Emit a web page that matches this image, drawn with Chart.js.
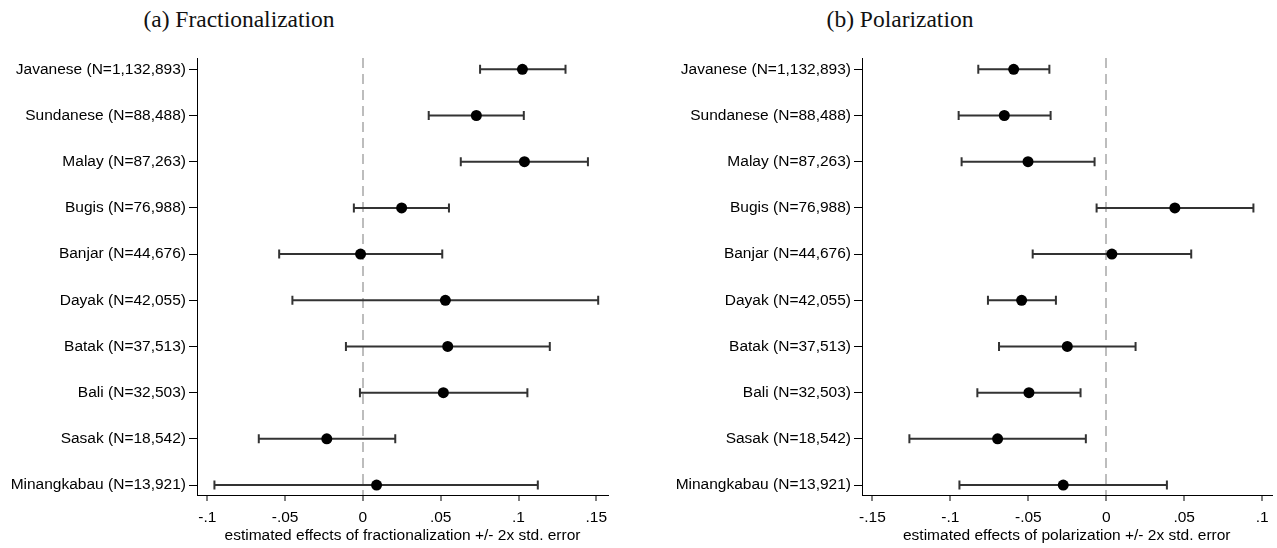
<!DOCTYPE html>
<html>
<head>
<meta charset="utf-8">
<script src="https://cdn.jsdelivr.net/npm/chart.js@4.4.1/dist/chart.umd.min.js"></script>
<style>
  body { margin: 0; background: #fff; width: 1277px; height: 548px; position: relative; overflow: hidden; }
  .panel { position: absolute; top: 0; height: 548px; }
  .title { position: absolute; top: 8px; font-family: 'Liberation Serif', serif; font-size: 23.5px; line-height: 23.5px; color: #111; transform: translateX(-50%); white-space: nowrap; }
</style>
</head>
<body>
<div class="title" style="left:239px">(a) Fractionalization</div>
<div class="title" style="left:900px">(b) Polarization</div>
<div class="panel" style="left:0;width:640px"><canvas id="fracChart"></canvas></div>
<div class="panel" style="left:640px;width:637px"><canvas id="polChart"></canvas></div>
<script>
const groups = [
  'Javanese (N=1,132,893)', 'Sundanese (N=88,488)', 'Malay (N=87,263)',
  'Bugis (N=76,988)', 'Banjar (N=44,676)', 'Dayak (N=42,055)',
  'Batak (N=37,513)', 'Bali (N=32,503)', 'Sasak (N=18,542)',
  'Minangkabau (N=13,921)'
];

// (a) fractionalization: estimate and +/- 2 s.e. bounds
const fracEst  = [0.1025, 0.0729, 0.1038, 0.0249, -0.0015, 0.0530, 0.0545, 0.0517, -0.0232, 0.0088];
const fracLow  = [0.0753, 0.0423, 0.0629, -0.0058, -0.0538, -0.0453, -0.0109, -0.0019, -0.0669, -0.0954];
const fracHigh = [0.1302, 0.1034, 0.1446, 0.0553, 0.0510, 0.1512, 0.1201, 0.1057, 0.0208, 0.1124];

// (b) polarization
const polEst  = [-0.0594, -0.0654, -0.0502, 0.0440, 0.0036, -0.0543, -0.0250, -0.0496, -0.0697, -0.0276];
const polLow  = [-0.0821, -0.0947, -0.0928, -0.0062, -0.0472, -0.0759, -0.0688, -0.0827, -0.1263, -0.0942];
const polHigh = [-0.0365, -0.0357, -0.0075, 0.0944, 0.0545, -0.0323, 0.0188, -0.0165, -0.0131, 0.0389];

const fracTicks = [-0.1, -0.05, 0, 0.05, 0.1, 0.15];
const fracTickLabels = ['-.1', '-.05', '0', '.05', '.1', '.15'];
const polTicks = [-0.15, -0.1, -0.05, 0, 0.05, 0.1];
const polTickLabels = ['-.15', '-.1', '-.05', '0', '.05', '.1'];

const labelFont = { family: "'Liberation Sans', Arial, sans-serif", size: 15.5 };

// draws the whiskers with caps under the points
const errorBars = {
  id: 'errorBars',
  beforeDatasetsDraw(chart, args, opts) {
    const { ctx, scales: { x, y } } = chart;
    ctx.save();
    ctx.strokeStyle = '#333';
    ctx.lineWidth = 2;
    opts.low.forEach((lo, i) => {
      const yp = y.getPixelForValue(i);
      const x1 = x.getPixelForValue(lo);
      const x2 = x.getPixelForValue(opts.high[i]);
      ctx.beginPath();
      ctx.moveTo(x1, yp); ctx.lineTo(x2, yp);
      ctx.moveTo(x1, yp - 4.5); ctx.lineTo(x1, yp + 4.5);
      ctx.moveTo(x2, yp - 4.5); ctx.lineTo(x2, yp + 4.5);
      ctx.stroke();
    });
    ctx.restore();
  }
};

function makeChart(id, est, low, high, ticks, tickLabels, xMin, xMax, yWidth, rightPad, axisTitle) {
  const ctx = document.getElementById(id).getContext('2d');
  return new Chart(ctx, {
    type: 'scatter',
    data: {
      datasets: [{
        data: est.map((v, i) => ({ x: v, y: i })),
        backgroundColor: '#000',
        borderColor: '#000',
        pointRadius: 5.5,
        pointBorderWidth: 0,
      }],
    },
    plugins: [errorBars],
    options: {
      responsive: true,
      maintainAspectRatio: false,
      animation: false,
      layout: { padding: { top: 58, right: rightPad, left: 0, bottom: 0 } },
      plugins: {
        legend: { display: false },
        tooltip: { enabled: false },
        errorBars: { low: low, high: high },
      },
      scales: {
        x: {
          type: 'linear',
          min: xMin,
          max: xMax,
          afterBuildTicks: (s) => { s.ticks = ticks.map((v) => ({ value: v })); },
          afterFit: (s) => { s.height = 53; },
          ticks: {
            callback: (v, i) => tickLabels[i],
            autoSkip: false,
            maxRotation: 0,
            color: '#000',
            font: labelFont,
            padding: 7,
          },
          grid: {
            color: (c) => (c.tick && c.tick.value === 0 ? '#bdbdbd' : 'rgba(0,0,0,0)'),
            lineWidth: 2,
            tickColor: '#000',
            tickWidth: 1,
            tickLength: 6,
          },
          border: { color: '#000', width: 1, dash: [10, 6] },
          title: {
            display: true,
            text: axisTitle,
            color: '#000',
            font: labelFont,
            padding: { top: 2, bottom: 3 },
          },
        },
        y: {
          type: 'linear',
          reverse: true,
          min: -0.245,
          max: 9.216,
          afterBuildTicks: (s) => { s.ticks = groups.map((g, i) => ({ value: i })); },
          afterFit: (s) => { s.width = yWidth; },
          ticks: {
            callback: (v, i) => groups[i],
            autoSkip: false,
            color: '#000',
            font: labelFont,
            padding: 3,
          },
          grid: { drawOnChartArea: false, tickColor: '#000', tickWidth: 1, tickLength: 8 },
          border: { color: '#000', width: 1 },
        },
      },
    },
  });
}

makeChart('fracChart', fracEst, fracLow, fracHigh, fracTicks, fracTickLabels,
  -0.1066, 0.1575, 197, 32, 'estimated effects of fractionalization +/- 2x std. error');
makeChart('polChart', polEst, polLow, polHigh, polTicks, polTickLabels,
  -0.1567, 0.106, 222, 5, 'estimated effects of polarization +/- 2x std. error');
</script>
</body>
</html>
